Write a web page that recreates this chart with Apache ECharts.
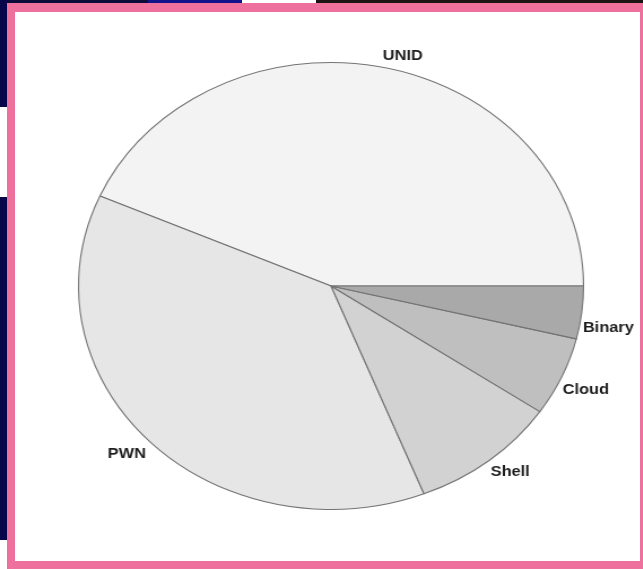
<!DOCTYPE html>
<html>
<head>
<meta charset="utf-8">
<script src="https://cdn.jsdelivr.net/npm/echarts@6/dist/echarts.min.js"></script>
<style>
  html, body { margin: 0; padding: 0; background: #ffffff; }
  #wrap { position: relative; width: 643px; height: 569px; overflow: hidden; }
  #bg { position: absolute; left: 0; top: 0; width: 643px; height: 569px; }
  #pie { position: absolute; left: 0; top: 0; width: 569px; height: 569px;
         transform-origin: 0 0; transform: scaleX(1.1298); }
</style>
</head>
<body>
<div id="wrap">
  <div id="bg"></div>
  <div id="pie"></div>
</div>
<script>
// Data
const categories = ['UNID', 'PWN', 'Shell', 'Cloud', 'Binary'];
const shares = [43.4, 37.6, 9.5, 5.7, 3.8];
const sliceColors = ['#f3f3f3', '#e6e6e6', '#d2d2d2', '#bfbfbf', '#a9a9a9'];

// small label nudges (styling), in the pie's local pixels
const labelNudge = { UNID: [-1, -7], PWN: [0, 10], Shell: [-1, 8], Cloud: [-3, 12], Binary: [-3, 15] };

const bg = echarts.init(document.getElementById('bg'), null, { renderer: 'canvas' });
bg.setOption({
  backgroundColor: '#ffffff',
  animation: false,
  graphic: [
    { type: 'rect', shape: { x: 0, y: 0, width: 148, height: 4 }, style: { fill: '#0b0b3a' } },
    { type: 'rect', shape: { x: 148, y: 0, width: 94, height: 4 }, style: { fill: '#12128a' } },
    { type: 'rect', shape: { x: 316, y: 0, width: 327, height: 4 }, style: { fill: '#1c1414' } },
    { type: 'rect', shape: { x: 0, y: 0, width: 8, height: 107 }, style: { fill: '#06064a' } },
    { type: 'rect', shape: { x: 0, y: 197, width: 8, height: 343 }, style: { fill: '#06064a' } },
    { type: 'rect', shape: { x: 7, y: 3, width: 640, height: 570 }, style: { fill: '#ee709c' } },
    { type: 'rect', shape: { x: 15, y: 12, width: 625, height: 549 }, style: { fill: '#ffffff' } }
  ]
});

const pie = echarts.init(document.getElementById('pie'), null, { renderer: 'canvas' });
pie.setOption({
  animation: false,
  series: [{
    type: 'pie',
    center: [293, 286],
    radius: 223.5,
    startAngle: 0,
    clockwise: false,
    avoidLabelOverlap: false,
    silent: true,
    itemStyle: { borderColor: '#747474', borderWidth: 1.1 },
    label: {
      show: true,
      position: 'outside',
      color: '#1e1e1e',
      fontSize: 14.5,
      fontWeight: 'bold',
      fontFamily: "'Liberation Sans', Arial, sans-serif",
      distanceToLabelLine: 0
    },
    labelLine: { show: false, length: 4, length2: 0 },
    labelLayout: function (p) {
      const n = labelNudge[categories[p.dataIndex]] || [0, 0];
      return { dx: n[0], dy: n[1] };
    },
    emphasis: { disabled: true },
    data: categories.map((c, i) => ({
      name: c,
      value: shares[i],
      itemStyle: { color: sliceColors[i] }
    }))
  }]
});
</script>
</body>
</html>
